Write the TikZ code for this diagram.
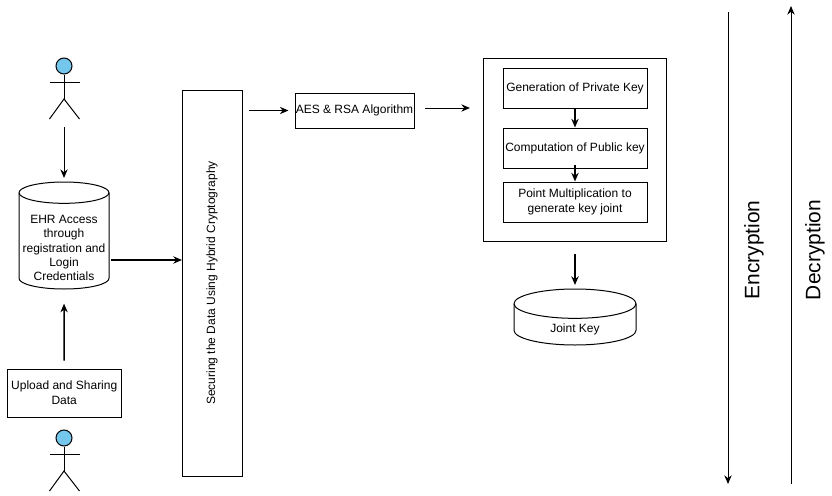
\documentclass[tikz,border=0pt]{standalone}
\usepackage{fontspec}
\setmainfont{Liberation Sans}
\usetikzlibrary{arrows.meta}
\definecolor{headblue}{HTML}{73C6EC}
\tikzset{
    stepbox/.style={draw,align=center,inner sep=0pt,font=\fontsize{9}{11}\selectfont},
    storebox/.style={inner sep=0pt,outer sep=0pt},
    storetext/.style={align=center,inner sep=0pt,font=\fontsize{9}{10.7}\selectfont},
    head/.style={draw,circle,fill=headblue,minimum size=12pt,inner sep=0pt},
    thickarrow/.style={->,line width=1.1pt}
}
% node name, x radius, y radius
\newcommand{\storeoutline}[3]{
    \draw ([yshift=-#3]#1.north west) arc[start angle=180,end angle=0,x radius=#2,y radius=#3]
        -- ([yshift=#3]#1.south east) arc[start angle=0,end angle=-180,x radius=#2,y radius=#3] -- cycle;
    \draw ([yshift=-#3]#1.north west) arc[start angle=180,end angle=360,x radius=#2,y radius=#3];
}
\begin{document}
\begin{tikzpicture}[x=0.75pt,y=-0.75pt,line width=0.75pt,>={Stealth[length=6.5pt,width=5.5pt]}]
    \useasboundingbox (0,0) rectangle (832,496);
    %actors
    \node [head] (headTop) at (64,66) {};
    \draw (headTop.south) -- (64,99) coordinate (hipTop);
    \draw (49.5,82) -- (79.5,82);
    \draw (49.5,119) -- (hipTop) -- (79.5,119);
    \coordinate (footTop) at (64,119);
    \node [head] (headBottom) at (64,438) {};
    \draw (headBottom.south) -- (64,471) coordinate (hipBottom);
    \draw (49.5,454) -- (79.5,454);
    \draw (49.5,491) -- (hipBottom) -- (79.5,491);
    %left column
    \node [storebox,minimum width=67.5pt,minimum height=80.25pt] (ehr) at (64,235.5) {};
    \storeoutline{ehr}{33.75pt}{8pt}
    \node [storetext] (ehrText) at (64,248) {EHR Access\\through\\registration and\\Login\\Credentials};
    \node [stepbox,minimum width=85.5pt,minimum height=36pt] (upload) at (64.25,393) {Upload and Sharing\\Data};
    \node [stepbox,minimum width=45pt,minimum height=289.5pt] (secure) at (212.5,283) {};
    \node [rotate=90,font=\fontsize{9}{11}\selectfont,inner sep=0pt] (secureText) at (212,283) {Securing the Data Using Hybrid Cryptography};
    \node [stepbox,minimum width=89.25pt,minimum height=26.25pt] (aes) at (354.5,110.5) {AES \& RSA Algorithm};
    %key generation
    \node [stepbox,minimum width=137.25pt,minimum height=137.25pt] (keys) at (575,150) {};
    \node [stepbox,minimum width=108pt,minimum height=30pt] (private) at (575,88) {Generation of Private Key};
    \node [stepbox,minimum width=108pt,minimum height=30pt] (public) at (575,148) {Computation of Public key};
    \node [stepbox,minimum width=108pt,minimum height=30pt] (point) at (575,202) {Point Multiplication to\\generate key joint};
    \node [storebox,minimum width=91.5pt,minimum height=42pt] (joint) at (575,317) {};
    \storeoutline{joint}{45.75pt}{11pt}
    \node [storetext] (jointText) at (575,329.5) {Joint Key};
    %arrows
    \draw [->,shorten <=6pt,shorten >=3pt] (footTop) -- (ehr.north);
    \draw [thickarrow,shorten <=6pt,shorten >=11pt] (upload.north) -- (ehr.south);
    \draw [thickarrow,shorten <=1.5pt] (ehr.east |- 0,260) -- (secure.west |- 0,260);
    \draw [->,shorten <=4.5pt,shorten >=4.5pt] (secure.east |- aes.west) -- (aes.west);
    \draw [->,shorten <=8pt,shorten >=9.75pt] (aes.east |- 0,108) -- (keys.west |- 0,108);
    \draw [thickarrow] (private.south) -- (public.north);
    \draw [thickarrow,shorten <=-3pt] (public.south) -- (point.north);
    \draw [thickarrow,shorten <=9pt,shorten >=3pt] (keys.south) -- (joint.north);
    %encryption and decryption
    \coordinate (encStart) at (728,12);
    \coordinate (encEnd) at (728,484);
    \coordinate (decStart) at (791,484);
    \coordinate (decEnd) at (791,6);
    \draw [->] (encStart) -- (encEnd);
    \draw [->] (decStart) -- (decEnd);
    \node [rotate=90,font=\fontsize{15.7}{18}\selectfont] (enc) at (754,250) {Encryption};
    \node [rotate=90,font=\fontsize{15.7}{18}\selectfont] (dec) at (815,250) {Decryption};
\end{tikzpicture}
\end{document}
